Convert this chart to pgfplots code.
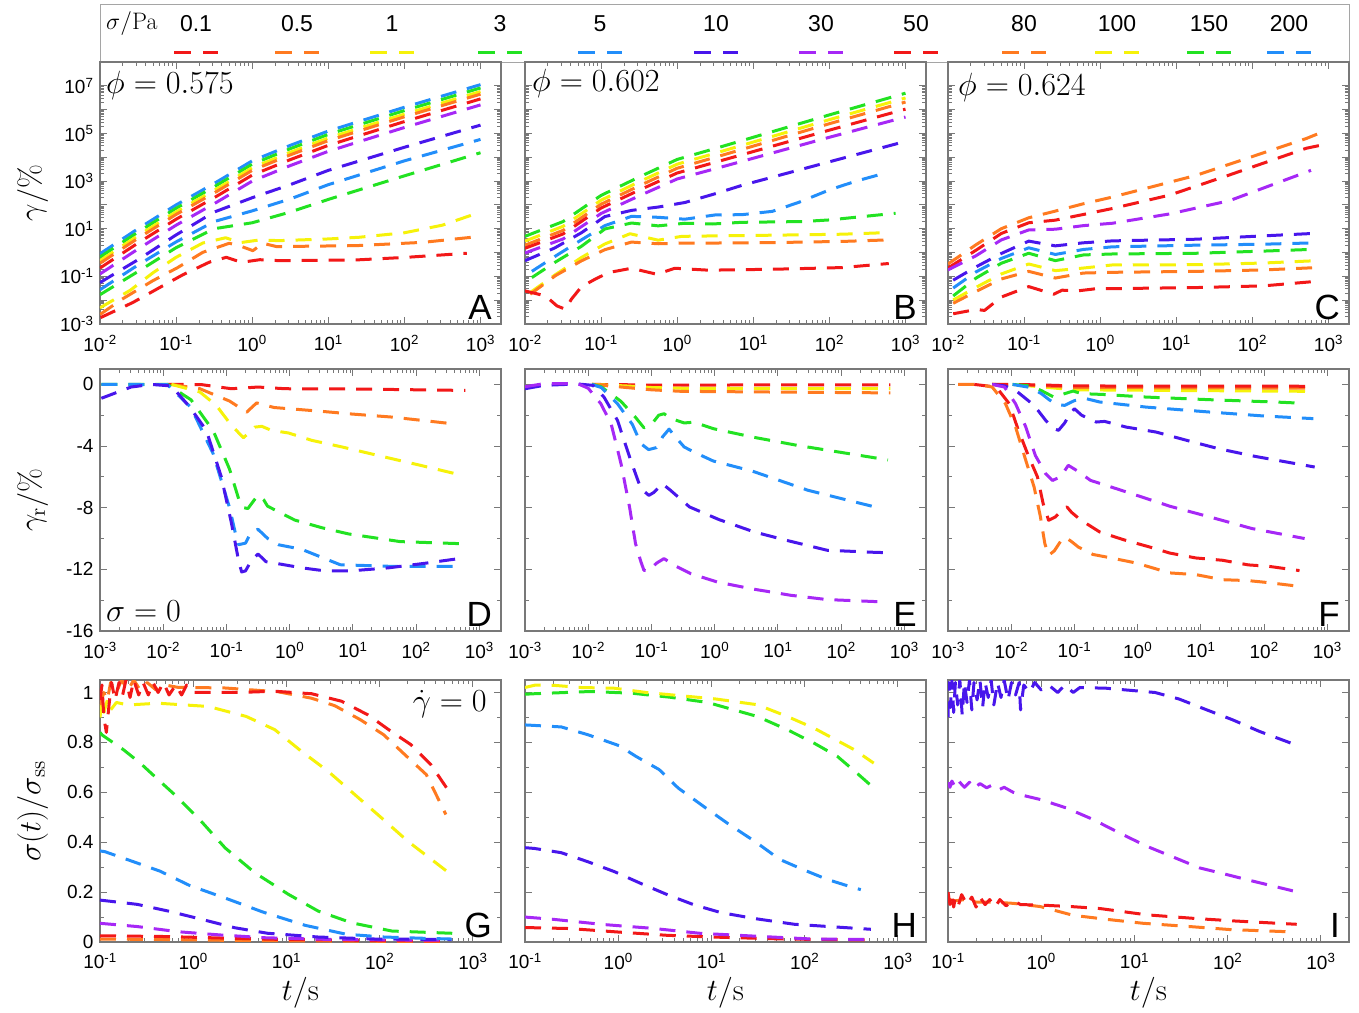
\documentclass[border=0pt]{standalone}
\usepackage[no-math]{fontspec}
\setmainfont{Liberation Sans}
\usepackage{graphicx}
\usepackage{pgfplots}
\pgfplotsset{compat=1.18}

\definecolor{cR}{RGB}{242,24,24}
\definecolor{cO}{RGB}{255,122,32}
\definecolor{cY}{RGB}{246,242,10}
\definecolor{cG}{RGB}{34,226,34}
\definecolor{cB}{RGB}{34,142,250}
\definecolor{cI}{RGB}{72,22,236}
\definecolor{cP}{RGB}{166,40,246}
\definecolor{axgray}{RGB}{120,120,120}
\definecolor{boxgray}{RGB}{165,165,165}

\newcommand\tenpow[1]{10\textsuperscript{#1}}
\newcommand\ticksize{\fontsize{19}{21}\selectfont}
\newcommand\letsize{\fontsize{35}{37}\selectfont}
\newcommand\legsize{\fontsize{23}{25}\selectfont}
% large math: set at the largest design size, then scaled up
\newcommand\mathbig[2][1.55]{\scalebox{#1}{\fontsize{20.74}{25}\selectfont #2}}

\tikzset{
  letter/.style={anchor=south east, inner sep=0pt, font=\letsize, xshift=-9pt, yshift=4pt},
  keynum/.style={anchor=base, inner sep=0pt, font=\legsize},
}

\pgfplotsset{
  pnlcommon/.style={scale only axis, width=401pt, height=262pt,
    axis line style={draw=axgray, line width=1.1pt},
    tick style={draw=axgray, line width=1pt},
    major tick length=7pt, minor tick length=4pt, tick align=inside,
    tick label style={font=\ticksize},
    xticklabel style={yshift=-8pt},
    yticklabel style={xshift=-3pt},
    every axis plot/.append style={line width=3pt, dash pattern=on 16pt off 11pt, line join=round}},
  pnlrowone/.style={pnlcommon, xmin=1e-2, xmax=1860, ymin=1e-3, ymax=1e8,
    xtick={1e-2,1e-1,1,10,100,1000},
    xticklabels={\tenpow{-2},\tenpow{-1},\tenpow{0},\tenpow{1},\tenpow{2},\tenpow{3}},
    ytick={1e-3,1e-2,1e-1,1,10,100,1e3,1e4,1e5,1e6,1e7}},
  pnlrowtwo/.style={pnlcommon, xmin=1e-3, xmax=2200, ymin=-16, ymax=1,
    xtick={1e-3,1e-2,1e-1,1,10,100,1000},
    xticklabels={\tenpow{-3},\tenpow{-2},\tenpow{-1},\tenpow{0},\tenpow{1},\tenpow{2},\tenpow{3}},
    ytick={-16,-12,-8,-4,0}, minor ytick={-14,-10,-6,-2}},
  pnlrowthree/.style={pnlcommon, xmin=1e-1, xmax=2000, ymin=0, ymax=1.05,
    xtick={1e-1,1,10,100,1000},
    xticklabels={\tenpow{-1},\tenpow{0},\tenpow{1},\tenpow{2},\tenpow{3}},
    ytick={0,0.2,0.4,0.6,0.8,1}, minor ytick={0.1,0.3,0.5,0.7,0.9}},
  pnlnoylab/.style={yticklabels={}},
  pnlylab/.style={ylabel style={at={(axis description cs:-0.168,0.5)}, anchor=center}},
  pnlxlab/.style={xlabel={\mathbig[1.49]{$t/\mathrm{s}$}}, xlabel style={at={(axis description cs:0.5,-0.195)}, anchor=center}},
}

\begin{document}
\begin{tikzpicture}
\path[use as bounding box] (0pt,0pt) rectangle (1359pt,-1012pt);

% ---------------- stress key ----------------
\begin{axis}[at={(100pt,-4.5pt)}, anchor=north west, scale only axis,
  width=1249pt, height=57.5pt, xmin=0, xmax=1249, ymin=0, ymax=57.5,
  xtick=\empty, ytick=\empty, axis line style={draw=boxgray, line width=1pt},
  clip=false, every axis plot/.append style={line width=3pt, dash pattern=on 17pt off 12pt}]
\addplot[cR] coordinates {(74,10) (118,10)};
\addplot[cO] coordinates {(175,10) (219,10)};
\addplot[cY] coordinates {(270,10) (314,10)};
\addplot[cG] coordinates {(378,10) (422,10)};
\addplot[cB] coordinates {(478,10) (522,10)};
\addplot[cI] coordinates {(594,10) (638,10)};
\addplot[cP] coordinates {(699,10) (743,10)};
\addplot[cR] coordinates {(794,10) (838,10)};
\addplot[cO] coordinates {(902,10) (946,10)};
\addplot[cY] coordinates {(995,10) (1039,10)};
\addplot[cG] coordinates {(1087,10) (1131,10)};
\addplot[cB] coordinates {(1167,10) (1211,10)};
\node[anchor=base west, inner sep=0pt] at (axis cs:6,33) {\mathbig[1.15]{$\sigma/\mathrm{Pa}$}};
\node[keynum] at (axis cs:96,31) {0.1};
\node[keynum] at (axis cs:197,31) {0.5};
\node[keynum] at (axis cs:292,31) {1};
\node[keynum] at (axis cs:400,31) {3};
\node[keynum] at (axis cs:500,31) {5};
\node[keynum] at (axis cs:616,31) {10};
\node[keynum] at (axis cs:721,31) {30};
\node[keynum] at (axis cs:816,31) {50};
\node[keynum] at (axis cs:924,31) {80};
\node[keynum] at (axis cs:1017,31) {100};
\node[keynum] at (axis cs:1109,31) {150};
\node[keynum] at (axis cs:1189,31) {200};
\end{axis}

% ---------------- A ----------------
\begin{loglogaxis}[pnlrowone, pnlylab, at={(100pt,-62pt)}, anchor=north west,
  ylabel={\mathbig[1.49]{$\gamma/\%$}},
  yticklabels={\tenpow{-3},,\tenpow{-1},,\tenpow{1},,\tenpow{3},,\tenpow{5},,\tenpow{7}}]
\addplot[cB] coordinates {(0.01,0.891) (0.0316,10) (0.1,100) (0.316,794) (1,7080) (3.16,3.16e4) (10,1.26e5) (100,1.26e6) (1000,1.12e7)};
\addplot[cG] coordinates {(0.01,0.646) (0.0316,7.24) (0.1,72.4) (0.316,575) (1,5130) (3.16,2.29e4) (10,9.12e4) (100,9.12e5) (1000,8.13e6)};
\addplot[cY] coordinates {(0.01,0.457) (0.0316,5.13) (0.1,51.3) (0.316,407) (1,3630) (3.16,1.62e4) (10,6.46e4) (100,6.46e5) (1000,5.75e6)};
\addplot[cO] coordinates {(0.01,0.355) (0.0316,3.98) (0.1,39.8) (0.316,316) (1,2820) (3.16,1.26e4) (10,5.01e4) (100,5.01e5) (1000,4.47e6)};
\addplot[cR] coordinates {(0.01,0.224) (0.0316,2.51) (0.1,25.1) (0.316,200) (1,1780) (3.16,7940) (10,3.16e4) (100,3.16e5) (1000,2.82e6)};
\addplot[cP] coordinates {(0.01,0.126) (0.0316,1.41) (0.1,14.1) (0.316,112) (1,1000) (3.16,4470) (10,1.78e4) (100,1.78e5) (1000,1.58e6)};
\addplot[cI] coordinates {(0.01,0.055) (0.0316,0.5) (0.1,5.5) (0.316,50.1) (1,200) (3.16,708) (10,2820) (100,2.63e4) (1000,2.24e5)};
\addplot[cB] coordinates {(0.01,0.0275) (0.0316,0.3) (0.1,2.8) (0.316,20) (1,56.2) (3.16,178) (10,708) (100,7080) (1000,5.62e4)};
\addplot[cG] coordinates {(0.01,0.017) (0.0316,0.16) (0.1,1.6) (0.316,10) (1,17.8) (3.16,50.1) (10,170) (100,1660) (1000,1.55e4)};
\addplot[cY] coordinates {(0.01,0.00479) (0.0251,0.0263) (0.0501,0.1445) (0.1,0.631) (0.224,2.51) (0.447,4.17) (0.708,2.63) (1.259,3.39) (2.24,3.16) (10,3.72) (25.1,4.37) (100,6.76) (316,14.1) (1000,50.1)};
\addplot[cO] coordinates {(0.01,0.00251) (0.0195,0.011) (0.049,0.0646) (0.105,0.234) (0.224,1.02) (0.5,2.45) (0.676,1.95) (1.02,1.2) (1.38,2.45) (2.09,1.78) (23.4,1.95) (178,2.69) (1000,4.79)};
\addplot[cR] coordinates {(0.0102,0.00186) (0.0269,0.00794) (0.0631,0.0363) (0.123,0.117) (0.275,0.398) (0.457,0.631) (0.724,0.389) (1.26,0.501) (2.29,0.457) (23.4,0.49) (107,0.631) (661,0.933)};
\node[anchor=base west, inner sep=0pt, xshift=6pt, yshift=-31pt] at (rel axis cs:0,1) {\mathbig{$\phi = 0.575$}};
\node[letter] at (rel axis cs:1,0) {A};
\end{loglogaxis}

% ---------------- B ----------------
\begin{loglogaxis}[pnlrowone, pnlnoylab, at={(525pt,-62pt)}, anchor=north west]
\addplot[cG] coordinates {(0.01,4.79) (0.0316,20) (0.1,251) (0.316,1480) (1,8130) (3.16,2.34e4) (10,6.92e4) (100,6.03e5) (1000,4.9e6)};
\addplot[cY] coordinates {(0.01,3.02) (0.0316,12.6) (0.1,158) (0.316,933) (1,5130) (3.16,1.48e4) (10,4.37e4) (100,3.8e5) (1000,3.09e6)};
\addplot[cO] coordinates {(0.01,2.04) (0.0316,8.51) (0.1,107) (0.316,631) (1,3470) (3.16,1.0e4) (10,2.95e4) (100,2.57e5) (1000,2.09e6)};
\addplot[cR] coordinates {(0.01,1.51) (0.0316,6.03) (0.1,74.1) (0.316,417) (1,2190) (3.16,6170) (10,1.74e4) (100,1.38e5) (1000,1.05e6)};
\addplot[cP] coordinates {(0.01,0.955) (0.0316,3.72) (0.1,43.7) (0.316,240) (1,1230) (3.16,3310) (10,9120) (100,6.92e4) (1000,4.9e5)};
\addplot[cI] coordinates {(0.01,0.457) (0.0245,1.55) (0.055,6.76) (0.112,32.4) (0.251,58.9) (0.562,81.3) (1.26,126) (3.16,295) (7.08,661) (100,6460) (955,4.47e4)};
\addplot[cB] coordinates {(0.0123,0.162) (0.0245,0.676) (0.055,3.39) (0.112,13.5) (0.251,33.1) (0.562,30.2) (1.26,25.1) (3.16,38.0) (7.08,38.9) (17.8,53.7) (39.8,129) (100,427) (219,977) (589,2340)};
\addplot[cG] coordinates {(0.0123,0.0891) (0.0245,0.38) (0.055,1.82) (0.112,9.77) (0.251,17.4) (0.562,13.2) (1.26,17.0) (2.88,15.8) (7.08,18.6) (43.7,20.0) (100,23.4) (219,30.2) (741,44.7)};
\addplot[cY] coordinates {(0.0117,0.0209) (0.0245,0.112) (0.055,0.617) (0.112,2.29) (0.24,6.17) (0.562,3.31) (1.15,4.79) (3.16,5.01) (19.5,5.37) (148,5.89) (603,6.92)};
\addplot[cO] coordinates {(0.0117,0.0178) (0.0251,0.107) (0.055,0.447) (0.112,1.32) (0.251,2.75) (0.562,2.34) (1.26,2.51) (3.16,2.51) (20,2.63) (158,2.95) (708,3.47)};
\addplot[cR] coordinates {(0.01,0.0245) (0.0186,0.0151) (0.0263,0.00575) (0.0339,0.00417) (0.0407,0.011) (0.055,0.0363) (0.0832,0.0759) (0.126,0.145) (0.251,0.219) (0.537,0.123) (0.933,0.219) (2.57,0.182) (19.5,0.2) (148,0.234) (603,0.347)};
\node[anchor=base west, inner sep=0pt, xshift=7pt, yshift=-29pt] at (rel axis cs:0,1) {\mathbig{$\phi = 0.602$}};
\node[letter] at (rel axis cs:1,0) {B};
\end{loglogaxis}

% ---------------- C ----------------
\begin{loglogaxis}[pnlrowone, pnlnoylab, at={(948pt,-62pt)}, anchor=north west]
\addplot[cO] coordinates {(0.01,0.331) (0.0234,2.14) (0.0501,10) (0.115,28.8) (0.257,55) (0.603,112) (1.45,214) (18.2,1740) (513,6.17e4) (955,1.38e5)};
\addplot[cR] coordinates {(0.01,0.224) (0.0234,1.26) (0.0501,6.31) (0.115,17.8) (0.257,22.9) (0.603,39.8) (1.45,70.8) (8.13,257) (50.1,1820) (513,2.4e4) (955,3.63e4)};
\addplot[cP] coordinates {(0.01,0.186) (0.0234,0.741) (0.0501,3.39) (0.115,8.91) (0.257,9.55) (0.603,13.5) (1.45,17.0) (8.13,41.7) (50.1,151) (513,2400) (589,2820)};
\addplot[cI] coordinates {(0.0117,0.0692) (0.0234,0.251) (0.0501,0.912) (0.115,3.02) (0.257,1.91) (0.603,2.57) (1.45,3.09) (18.2,3.63) (138,5.01) (708,6.46)};
\addplot[cB] coordinates {(0.0117,0.0324) (0.0234,0.155) (0.0501,0.562) (0.115,1.58) (0.257,0.832) (0.603,1.35) (1.45,1.74) (18.2,2.04) (138,2.24) (708,2.57)};
\addplot[cG] coordinates {(0.0117,0.0151) (0.0234,0.0851) (0.0501,0.355) (0.115,0.933) (0.257,0.457) (0.603,0.794) (1.45,0.871) (18.2,0.933) (138,1.15) (708,1.38)};
\addplot[cY] coordinates {(0.0117,0.0102) (0.0234,0.0347) (0.0501,0.126) (0.115,0.331) (0.257,0.174) (0.603,0.224) (1.45,0.302) (18.2,0.309) (138,0.363) (708,0.457)};
\addplot[cO] coordinates {(0.0117,0.00741) (0.0234,0.0234) (0.0501,0.0776) (0.115,0.162) (0.257,0.0851) (0.603,0.138) (1.45,0.148) (18.2,0.162) (138,0.186) (708,0.234)};
\addplot[cR] coordinates {(0.0117,0.00269) (0.0234,0.00407) (0.0302,0.00372) (0.0501,0.0135) (0.115,0.0372) (0.245,0.0178) (0.316,0.0263) (0.501,0.0245) (0.871,0.0302) (1.95,0.0309) (18.2,0.0339) (138,0.0398) (631,0.0603)};
\node[anchor=base west, inner sep=0pt, xshift=10pt, yshift=-33pt] at (rel axis cs:0,1) {\mathbig{$\phi = 0.624$}};
\node[letter] at (rel axis cs:1,0) {C};
\end{loglogaxis}

% ---------------- D ----------------
\begin{semilogxaxis}[pnlrowtwo, pnlylab, at={(100pt,-369pt)}, anchor=north west,
  ylabel={\mathbig[1.49]{$\gamma_{\mathrm{r}}/\%$}}, yticklabels={-16,-12,-8,-4,0}]
\addplot[cR] coordinates {(0.0117,0) (0.0398,-0.01) (0.12,-0.28) (0.316,-0.17) (0.85,-0.28) (12.3,-0.3) (603,-0.39)};
\addplot[cO] coordinates {(0.0135,0) (0.038,-0.28) (0.112,-1.08) (0.209,-1.8) (0.3,-1.2) (0.57,-1.5) (2.88,-1.73) (9.55,-1.92) (41.7,-2.12) (372,-2.55)};
\addplot[cY] coordinates {(0.0135,0) (0.038,-0.49) (0.069,-1.36) (0.12,-2.66) (0.186,-3.46) (0.282,-2.77) (0.363,-2.72) (0.513,-2.98) (0.955,-3.15) (2.24,-3.63) (6.76,-4.06) (28.8,-4.67) (117,-5.25) (537,-5.9)};
\addplot[cG] coordinates {(0.00105,0) (0.0031,0) (0.0117,0) (0.0275,-1.0) (0.0617,-3.0) (0.112,-5.5) (0.158,-7.5) (0.186,-8.0) (0.219,-8.05) (0.275,-7.5) (0.316,-7.2) (0.39,-7.5) (0.447,-7.9) (1.2,-8.8) (3.24,-9.3) (8.51,-9.7) (56.2,-10.2) (479,-10.33)};
\addplot[cB] coordinates {(0.00105,0) (0.0031,0) (0.0117,-0.02) (0.0275,-1.5) (0.0617,-4.5) (0.112,-8.0) (0.141,-9.8) (0.155,-10.4) (0.2,-10.3) (0.245,-9.6) (0.316,-9.4) (0.45,-10.0) (0.66,-10.4) (1.55,-10.7) (6.3,-11.7) (37,-11.8) (479,-11.8)};
\addplot[cI] coordinates {(0.00105,-0.9) (0.0031,-0.17) (0.0065,0) (0.0135,-0.1) (0.0263,-1.47) (0.048,-2.98) (0.083,-6.0) (0.12,-9.0) (0.155,-11.4) (0.174,-12.17) (0.2,-12.1) (0.25,-11.4) (0.316,-11.0) (0.42,-11.5) (0.589,-11.6) (1.55,-11.9) (3.63,-12.1) (9.1,-12.1) (37,-11.9) (141,-11.6) (479,-11.3)};
\node[anchor=base west, inner sep=0pt, xshift=6pt, yshift=10pt] at (rel axis cs:0,0) {\mathbig{$\sigma = 0$}};
\node[letter] at (rel axis cs:1,0) {D};
\end{semilogxaxis}

% ---------------- E ----------------
\begin{semilogxaxis}[pnlrowtwo, pnlnoylab, at={(525pt,-369pt)}, anchor=north west]
\addplot[cR] coordinates {(0.0115,0) (0.04,-0.02) (0.1,-0.05) (0.3,-0.04) (600,-0.03)};
\addplot[cY] coordinates {(0.0115,0) (0.04,-0.1) (0.1,-0.2) (0.3,-0.25) (600,-0.28)};
\addplot[cO] coordinates {(0.0115,0) (0.04,-0.2) (0.1,-0.35) (0.3,-0.45) (600,-0.55)};
\addplot[cG] coordinates {(0.0115,0) (0.016,-0.15) (0.033,-1.1) (0.055,-2.1) (0.076,-2.81) (0.1,-2.6) (0.13,-2.0) (0.158,-1.9) (0.2,-2.2) (0.33,-2.5) (0.47,-2.45) (0.95,-2.87) (3.9,-3.41) (20,-3.95) (550,-4.9)};
\addplot[cB] coordinates {(0.0115,0) (0.016,-0.2) (0.029,-1.25) (0.05,-2.6) (0.068,-3.84) (0.09,-4.23) (0.12,-4.1) (0.15,-3.4) (0.19,-2.9) (0.25,-3.5) (0.33,-4.06) (0.47,-4.39) (0.95,-4.97) (3.9,-5.62) (30,-6.87) (400,-8.02)};
\addplot[cI] coordinates {(0.001,-0.28) (0.002,-0.06) (0.0068,0.03) (0.0118,-0.06) (0.0178,-0.83) (0.029,-2.33) (0.047,-4.93) (0.068,-6.76) (0.091,-7.2) (0.11,-7.0) (0.148,-6.44) (0.2,-6.87) (0.4,-7.95) (1.17,-8.77) (4.2,-9.57) (13.2,-10.1) (60,-10.76) (363,-10.9) (600,-10.92)};
\addplot[cP] coordinates {(0.001,-0.15) (0.002,0.05) (0.0068,0.05) (0.01,-0.25) (0.0158,-1.25) (0.023,-2.55) (0.033,-5.14) (0.045,-7.95) (0.056,-10.33) (0.068,-11.5) (0.076,-12.06) (0.09,-12.1) (0.12,-11.6) (0.158,-11.3) (0.23,-11.74) (0.42,-12.28) (1.1,-12.82) (3.7,-13.25) (15.8,-13.68) (60,-13.96) (400,-14.1)};
\node[letter] at (rel axis cs:1,0) {E};
\end{semilogxaxis}

% ---------------- F ----------------
\begin{semilogxaxis}[pnlrowtwo, pnlnoylab, at={(948pt,-369pt)}, anchor=north west]
\addplot[cY] coordinates {(0.005,0) (0.02,-0.1) (0.1,-0.35) (600,-0.45)};
\addplot[cO] coordinates {(0.005,0) (0.02,-0.05) (0.1,-0.2) (600,-0.25)};
\addplot[cR] coordinates {(0.005,0) (0.0117,0) (0.04,-0.05) (0.1,-0.1) (600,-0.12)};
\addplot[cG] coordinates {(0.0105,0) (0.02,-0.1) (0.03,-0.4) (0.047,-0.82) (0.07,-0.6) (0.095,-0.43) (0.13,-0.6) (0.28,-0.65) (1.35,-0.82) (13.5,-0.99) (166,-1.15) (347,-1.21)};
\addplot[cB] coordinates {(0.0105,0) (0.02,-0.2) (0.03,-0.6) (0.04,-1.0) (0.052,-1.3) (0.07,-1.36) (0.1,-1.05) (0.155,-0.93) (0.25,-1.14) (1.35,-1.47) (13.5,-1.79) (100,-2.05) (600,-2.22)};
\addplot[cI] coordinates {(0.005,0) (0.008,-0.1) (0.0126,-0.49) (0.023,-1.36) (0.035,-2.33) (0.047,-2.87) (0.056,-2.98) (0.07,-2.5) (0.085,-1.9) (0.1,-1.58) (0.13,-2.0) (0.22,-2.44) (0.3,-2.4) (0.66,-2.77) (1.95,-3.09) (6.5,-3.67) (19,-4.17) (72,-4.67) (630,-5.36)};
\addplot[cP] coordinates {(0.005,0) (0.0078,-0.17) (0.0117,-1.25) (0.017,-2.76) (0.024,-4.6) (0.035,-5.79) (0.045,-6.23) (0.06,-6.0) (0.08,-5.25) (0.11,-5.6) (0.18,-6.23) (0.28,-6.48) (0.74,-7.04) (3.2,-7.9) (15,-8.64) (64,-9.35) (437,-10.0)};
\addplot[cR] coordinates {(0.0026,0) (0.0058,-0.17) (0.0093,-1.25) (0.013,-2.98) (0.019,-4.71) (0.026,-6.0) (0.032,-7.74) (0.039,-8.82) (0.05,-8.6) (0.065,-8.1) (0.076,-7.95) (0.09,-8.3) (0.123,-8.77) (0.25,-9.57) (0.59,-10.07) (1.55,-10.55) (3.2,-10.94) (8.3,-11.26) (21.9,-11.41) (56,-11.71) (117,-11.8) (363,-12.08)};
\addplot[cO] coordinates {(0.00145,0) (0.003,0) (0.005,-0.17) (0.0081,-1.25) (0.0117,-2.76) (0.017,-4.93) (0.023,-6.66) (0.029,-8.6) (0.034,-10.33) (0.039,-11.09) (0.048,-10.8) (0.06,-10.2) (0.071,-9.9) (0.09,-10.2) (0.115,-10.55) (0.195,-11.03) (0.36,-11.24) (0.95,-11.59) (3.2,-12.23) (8.3,-12.34) (21.9,-12.67) (56,-12.73) (117,-12.86) (324,-13.08)};
\node[letter] at (rel axis cs:1,0) {F};
\end{semilogxaxis}

% ---------------- G ----------------
\begin{semilogxaxis}[pnlrowthree, pnlylab, pnlxlab, at={(100pt,-680pt)}, anchor=north west,
  ylabel={\mathbig[1.49]{$\sigma(t)/\sigma_{\mathrm{ss}}$}}, yticklabels={0,0.2,0.4,0.6,0.8,1}]
\addplot[cO] coordinates {(0.1,0.012) (0.5,0.01) (2,0.007) (10,0.005) (100,0.003) (560,0.002)};
\addplot[cR] coordinates {(0.1,0.025) (0.5,0.022) (2,0.016) (10,0.01) (100,0.006) (560,0.004)};
\addplot[cP] coordinates {(0.1,0.075) (0.25,0.062) (0.7,0.041) (2.0,0.028) (6.0,0.017) (25,0.011) (200,0.008) (560,0.007)};
\addplot[cI] coordinates {(0.1,0.168) (0.25,0.151) (0.54,0.124) (1.23,0.091) (2.8,0.057) (6.3,0.035) (21.9,0.02) (89,0.012) (590,0.01)};
\addplot[cB] coordinates {(0.1,0.365) (0.113,0.362) (0.22,0.324) (0.44,0.284) (0.91,0.227) (2.4,0.171) (5.6,0.12) (15.8,0.067) (44,0.031) (112,0.02) (355,0.014) (590,0.012)};
\addplot[cG] coordinates {(0.1,0.84) (0.105,0.83) (0.178,0.771) (0.27,0.717) (0.42,0.651) (0.63,0.591) (1.17,0.491) (2.2,0.377) (4.6,0.277) (10.5,0.191) (21.9,0.124) (50,0.077) (135,0.044) (600,0.035)};
\addplot[cY] coordinates {(0.1,0.9) (0.105,0.97) (0.11,0.92) (0.12,0.97) (0.13,0.93) (0.15,0.96) (0.2,0.95) (0.42,0.957) (1.45,0.944) (3.7,0.904) (7.5,0.851) (14.5,0.764) (28,0.684) (54,0.591) (105,0.497) (200,0.404) (540,0.28)};
\addplot[cO] coordinates {(0.1,0.95) (0.11,1.0) (0.12,0.97) (0.13,1.04) (0.15,1.0) (0.17,1.05) (0.2,1.01) (0.23,1.05) (0.27,1.01) (0.32,1.04) (0.4,1.01) (0.5,1.03) (0.7,1.02) (1.0,1.02) (2.2,1.018) (8.1,1.003) (18.6,0.977) (33,0.947) (62,0.891) (110,0.831) (186,0.751) (316,0.671) (513,0.511)};
\addplot[cR] coordinates {(0.1,0.97) (0.105,1.03) (0.11,0.9) (0.117,0.84) (0.125,0.95) (0.133,1.04) (0.145,0.97) (0.16,1.04) (0.175,0.99) (0.19,1.05) (0.21,0.98) (0.23,1.05) (0.26,0.99) (0.29,1.04) (0.33,0.99) (0.37,1.04) (0.42,1.0) (0.48,1.04) (0.55,0.99) (0.65,1.03) (0.75,0.99) (0.85,1.03) (1.0,1.0) (1.45,1.0) (3.0,1.0) (7.5,1.005) (18.6,0.995) (39,0.965) (75,0.91) (126,0.85) (218,0.79) (355,0.71) (562,0.6)};
\node[anchor=base east, inner sep=0pt, xshift=-14pt, yshift=-31pt] at (rel axis cs:1,1) {\mathbig{$\dot{\gamma} = 0$}};
\node[letter] at (rel axis cs:1,0) {G};
\end{semilogxaxis}

% ---------------- H ----------------
\begin{semilogxaxis}[pnlrowthree, pnlnoylab, pnlxlab, at={(525pt,-680pt)}, anchor=north west]
\addplot[cR] coordinates {(0.1,0.058) (0.3,0.054) (1.0,0.04) (3.3,0.027) (10,0.02) (60,0.012) (550,0.008)};
\addplot[cP] coordinates {(0.1,0.1) (0.2,0.091) (0.7,0.07) (2.3,0.055) (7.5,0.035) (35,0.022) (120,0.012) (550,0.01)};
\addplot[cI] coordinates {(0.1,0.378) (0.126,0.375) (0.245,0.358) (0.47,0.322) (0.91,0.282) (1.74,0.235) (3.4,0.189) (6.5,0.149) (12.6,0.118) (29,0.094) (78,0.071) (513,0.051)};
\addplot[cB] coordinates {(0.1,0.87) (0.126,0.868) (0.245,0.862) (0.47,0.831) (1.02,0.787) (1.55,0.744) (2.75,0.691) (4.4,0.617) (8.7,0.537) (15.5,0.471) (29,0.404) (54,0.331) (95,0.291) (174,0.251) (339,0.217) (400,0.21)};
\addplot[cG] coordinates {(0.1,0.993) (0.126,0.995) (0.51,1.004) (1.41,0.997) (3.6,0.981) (9.1,0.96) (31,0.904) (65,0.851) (126,0.797) (224,0.744) (363,0.677) (575,0.611)};
\addplot[cY] coordinates {(0.1,1.02) (0.13,1.03) (0.215,1.028) (0.4,1.02) (0.91,1.017) (2.0,1.0) (4.7,0.987) (11.1,0.974) (31,0.951) (65,0.904) (126,0.857) (214,0.811) (339,0.771) (550,0.717)};
\node[letter] at (rel axis cs:1,0) {H};
\end{semilogxaxis}

% ---------------- I ----------------
\begin{semilogxaxis}[pnlrowthree, pnlnoylab, pnlxlab, at={(948pt,-680pt)}, anchor=north west]
\addplot[cO] coordinates {(0.1,0.17) (0.12,0.165) (0.15,0.17) (0.2,0.16) (0.3,0.16) (0.5,0.155) (0.98,0.142) (2.2,0.107) (5,0.091) (12.4,0.075) (39,0.062) (105,0.05) (537,0.04)};
\addplot[cR] coordinates {(0.1,0.2) (0.105,0.15) (0.11,0.19) (0.115,0.14) (0.12,0.18) (0.13,0.15) (0.14,0.19) (0.16,0.15) (0.18,0.18) (0.2,0.14) (0.22,0.18) (0.25,0.15) (0.28,0.17) (0.32,0.14) (0.36,0.17) (0.42,0.145) (0.5,0.165) (0.6,0.15) (0.98,0.148) (2.1,0.142) (4.3,0.134) (13.5,0.109) (46,0.094) (123,0.084) (550,0.071)};
\addplot[cP] coordinates {(0.1,0.64) (0.105,0.62) (0.11,0.645) (0.12,0.62) (0.13,0.645) (0.15,0.62) (0.17,0.64) (0.19,0.615) (0.22,0.635) (0.26,0.618) (0.3,0.63) (0.35,0.61) (0.4,0.62) (0.5,0.6) (0.6,0.59) (0.98,0.571) (1.87,0.537) (3.6,0.491) (6.9,0.437) (13.5,0.384) (25.8,0.341) (50,0.297) (96,0.271) (186,0.244) (500,0.205)};
\addplot[cI] coordinates {(0.1,0.9) (0.102,1.04) (0.106,0.94) (0.11,1.05) (0.115,0.92) (0.12,1.04) (0.127,0.95) (0.134,1.05) (0.142,0.91) (0.15,1.04) (0.16,0.96) (0.17,1.05) (0.18,0.93) (0.19,1.04) (0.205,0.97) (0.22,1.05) (0.235,0.94) (0.25,1.04) (0.27,0.98) (0.29,1.05) (0.31,0.95) (0.34,1.04) (0.37,0.98) (0.4,1.05) (0.44,0.97) (0.48,1.04) (0.53,0.99) (0.58,1.04) (0.6,0.93) (0.65,1.03) (0.75,1.0) (0.85,1.04) (1.0,1.01) (1.2,1.03) (1.5,1.0) (1.8,1.03) (2.2,1.0) (2.6,1.02) (5,1.017) (16.6,1.0) (30,0.974) (59,0.931) (112,0.891) (219,0.844) (537,0.79)};
\node[letter] at (rel axis cs:1,0) {I};
\end{semilogxaxis}
\end{tikzpicture}
\end{document}
